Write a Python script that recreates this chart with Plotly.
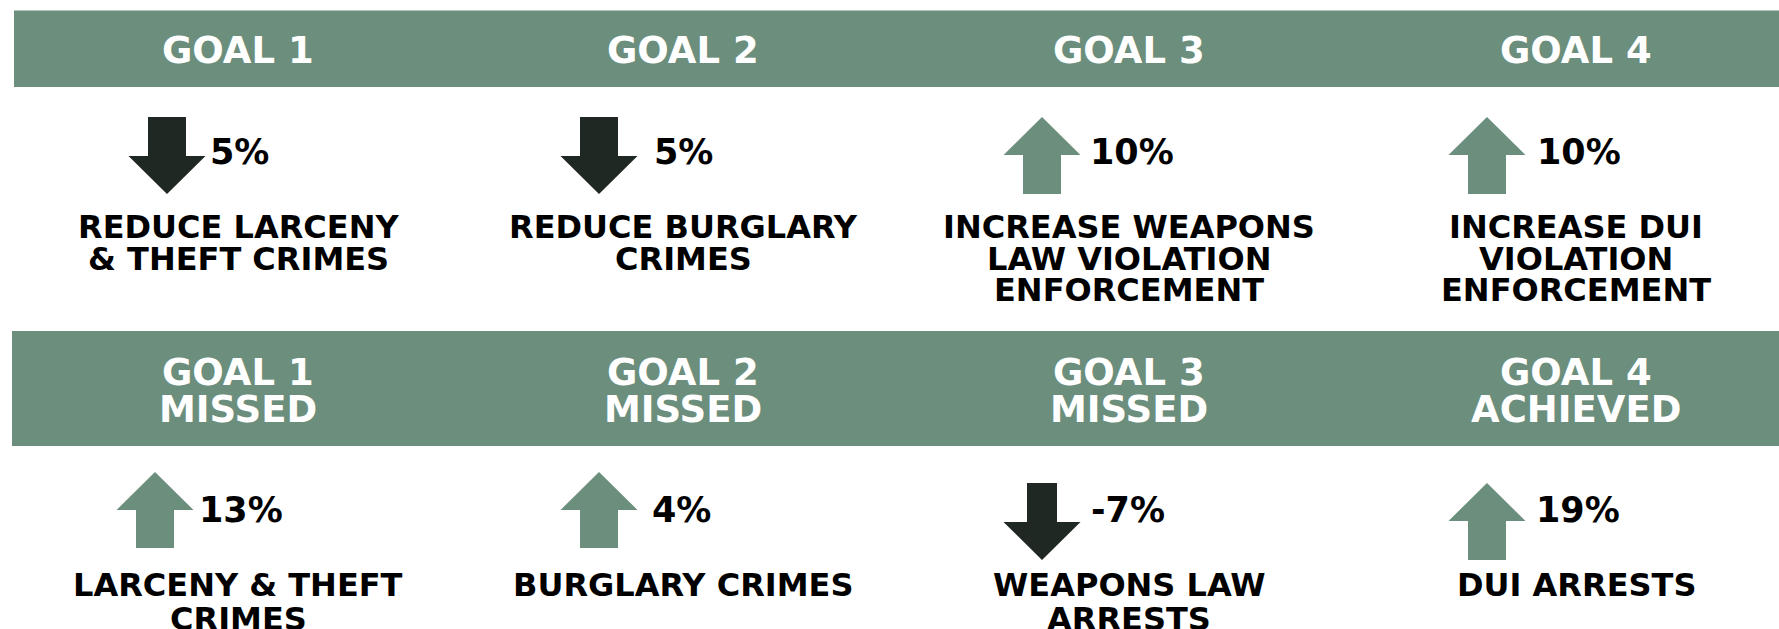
import plotly.graph_objects as go

# ---------------- data ----------------
goal_titles = ["GOAL 1", "GOAL 2", "GOAL 3", "GOAL 4"]
target_change = [-5, -5, 10, 10]          # planned % change
target_labels = [
    "REDUCE LARCENY<br>& THEFT CRIMES",
    "REDUCE BURGLARY<br>CRIMES",
    "INCREASE WEAPONS<br>LAW VIOLATION<br>ENFORCEMENT",
    "INCREASE DUI<br>VIOLATION<br>ENFORCEMENT",
]
outcome_status = ["MISSED", "MISSED", "MISSED", "ACHIEVED"]
outcome_change = [13, 4, -7, 19]          # actual % change
outcome_labels = [
    "LARCENY & THEFT<br>CRIMES",
    "BURGLARY CRIMES",
    "WEAPONS LAW<br>ARRESTS",
    "DUI ARRESTS",
]

# ---------------- layout constants ----------------
W, H = 1779, 629
GREEN = "#6B8E7D"
DARK = "#1F2823"
FONT = "DejaVu Sans"
col_x = [238, 683, 1129, 1576]

top_arrow_x = [167, 599, 1042, 1487]
top_arrow_y = [(117, 194)] * 4
top_pct_x = [208, 652, 1088, 1535]
top_pct_y = 152

bot_arrow_x = [155, 599, 1042, 1487]
bot_arrow_y = [(472, 548), (472, 548), (483, 560), (483, 560)]
bot_shaft = [38, 38, 30, 38]
bot_pct_x = [197, 650, 1089, 1534]
bot_pct_y = 510

fig = go.Figure()


def arrow(cx, y0, y1, up, color, sw=38, hw=38.5, hh=38):
    if up:
        xs = [cx, cx + hw, cx + sw / 2, cx + sw / 2, cx - sw / 2, cx - sw / 2, cx - hw, cx]
        ys = [y0, y0 + hh, y0 + hh, y1, y1, y0 + hh, y0 + hh, y0]
    else:
        xs = [cx, cx + hw, cx + sw / 2, cx + sw / 2, cx - sw / 2, cx - sw / 2, cx - hw, cx]
        ys = [y1, y1 - hh, y1 - hh, y0, y0, y1 - hh, y1 - hh, y1]
    fig.add_trace(go.Scatter(x=xs, y=ys, mode="lines", fill="toself",
                             fillcolor=color, line=dict(width=0, color=color),
                             hoverinfo="skip", showlegend=False))


def text(x, y, s, size, color="#000000", xanchor="center"):
    fig.add_annotation(x=x, y=y, xref="x", yref="y", text=s, showarrow=False,
                       xanchor=xanchor, yanchor="middle",
                       font=dict(family=FONT, size=size, color=color, weight="bold"))


def multiline(x, y_first, s, size, pitch):
    for i, line in enumerate(s.split("<br>")):
        text(x, y_first + i * pitch, line, size)


# bands
fig.add_shape(type="rect", xref="x", yref="y", x0=14, x1=W, y0=10.5, y1=87,
              fillcolor=GREEN, line_width=0, layer="below")
fig.add_shape(type="rect", xref="x", yref="y", x0=12, x1=W, y0=331, y1=446,
              fillcolor=GREEN, line_width=0, layer="below")

for i in range(4):
    # top band titles
    text(col_x[i], 50, goal_titles[i], 37, "#FFFFFF")
    # target arrows
    v = target_change[i]
    arrow(top_arrow_x[i], top_arrow_y[i][0], top_arrow_y[i][1], v > 0,
          GREEN if v > 0 else DARK)
    text(top_pct_x[i], top_pct_y, f"{abs(v)}%", 35, xanchor="left")
    multiline(col_x[i], 227, target_labels[i], 32, 31.5)

    # bottom band titles
    text(col_x[i], 372, goal_titles[i], 37, "#FFFFFF")
    text(col_x[i], 409, outcome_status[i], 37, "#FFFFFF")
    # outcome arrows
    v = outcome_change[i]
    arrow(bot_arrow_x[i], bot_arrow_y[i][0], bot_arrow_y[i][1], v > 0,
          GREEN if v > 0 else DARK, sw=bot_shaft[i])
    text(bot_pct_x[i], bot_pct_y, f"{v}%", 35, xanchor="left")
    multiline(col_x[i], 585, outcome_labels[i], 32, 34)

fig.update_layout(
    width=W, height=H, margin=dict(l=0, r=0, t=0, b=0),
    paper_bgcolor="white", plot_bgcolor="white",
    xaxis=dict(range=[0, W], visible=False, fixedrange=True),
    yaxis=dict(range=[H, 0], visible=False, fixedrange=True),
    showlegend=False,
)

fig.write_html(
    "out.html",
    config={"displayModeBar": False},
    post_script="document.body.style.margin='0';document.body.style.overflow='hidden';",
)
